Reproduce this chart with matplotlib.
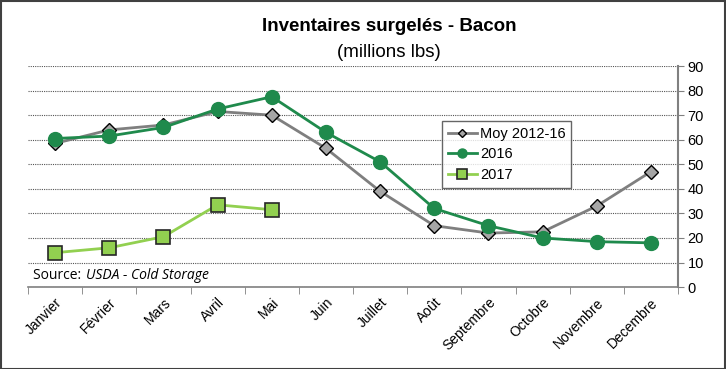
import matplotlib.pyplot as plt
from matplotlib.patches import Rectangle

plt.rcParams["font.family"] = ["Liberation Sans", "DejaVu Sans"]

months = ["Janvier", "Février", "Mars", "Avril", "Mai", "Juin", "Juillet",
          "Août", "Septembre", "Octobre", "Novembre", "Decembre"]
moy_2012_16 = [58.5, 64, 66, 71.5, 70, 56.5, 39, 25, 22, 22.5, 33, 47]
y2016 = [60.5, 61.5, 65, 72.5, 77.5, 63, 51, 32, 25, 20, 18.5, 18]
y2017 = [14, 16, 20.5, 33.5, 31.5]

GRAY = "#7f7f7f"
DARK_GREEN = "#1f8a4c"
LIGHT_GREEN = "#92d050"

fig = plt.figure(figsize=(7.26, 3.69), dpi=100)
ax = fig.add_axes([0.0386, 0.222, 0.8953, 0.599])

x = list(range(len(months)))
ax.plot(x, moy_2012_16, color=GRAY, lw=2, marker="D", ms=7,
        mfc="#a6a6a6", mec="black", mew=1, label="Moy 2012-16", zorder=3)
ax.plot(x, y2016, color=DARK_GREEN, lw=2, marker="o", ms=10,
        mfc=DARK_GREEN, mec=DARK_GREEN, label="2016", zorder=4)
ax.plot(x[:len(y2017)], y2017, color=LIGHT_GREEN, lw=2, marker="s", ms=10,
        mfc=LIGHT_GREEN, mec="#262626", mew=1.2, label="2017", zorder=5)

ax.set_xlim(-0.5, len(months) - 0.5)
ax.set_ylim(0, 90)
ax.set_yticks(range(0, 91, 10))
ax.yaxis.tick_right()
ax.tick_params(axis="y", direction="out", length=4, color="#808080",
               labelsize=10.5, pad=3)
ax.set_xticks(x)
ax.set_xticklabels(months, rotation=45, ha="right", rotation_mode="anchor",
                   fontsize=10)
ax.set_xticks([i - 0.5 for i in range(len(months) + 1)], minor=True)
ax.tick_params(axis="x", which="major", length=0, pad=6)
ax.tick_params(axis="x", which="minor", direction="out", length=5,
               color="#808080")

ax.grid(axis="y", color="#555555", linestyle=(0, (1, 1)), lw=0.8)
for side in ["top", "left"]:
    ax.spines[side].set_visible(False)
ax.spines["right"].set_color("#808080")
ax.spines["right"].set_linewidth(1.5)
ax.spines["bottom"].set_color("#808080")
ax.spines["bottom"].set_linewidth(1.2)

ax.text(0.008, 0.02, "Source: ", transform=ax.transAxes, fontsize=10,
        family="Open Sans", va="bottom")
ax.text(0.089, 0.02, "USDA - Cold Storage", transform=ax.transAxes,
        fontsize=10, family="Open Sans", style="italic", va="bottom")

leg = ax.legend(loc="upper left", bbox_to_anchor=(0.637, 0.751), fontsize=10.5,
                frameon=True, fancybox=False, edgecolor="#404040",
                handlelength=2.0, handletextpad=0.2, borderpad=0.4,
                labelspacing=0.45, markerscale=0.65, borderaxespad=0)
leg.get_frame().set_linewidth(1)

fig.text(0.536, 0.915, "Inventaires surgelés - Bacon", ha="center",
         fontsize=13.5, fontweight="bold")
fig.text(0.536, 0.845, "(millions lbs)", ha="center", fontsize=13.5)

fig.patches.append(Rectangle((0.001, 0.001), 0.997, 0.996,
                             transform=fig.transFigure, fill=False,
                             edgecolor="#404040", lw=1.5))

fig.savefig("out.png", dpi=100)
